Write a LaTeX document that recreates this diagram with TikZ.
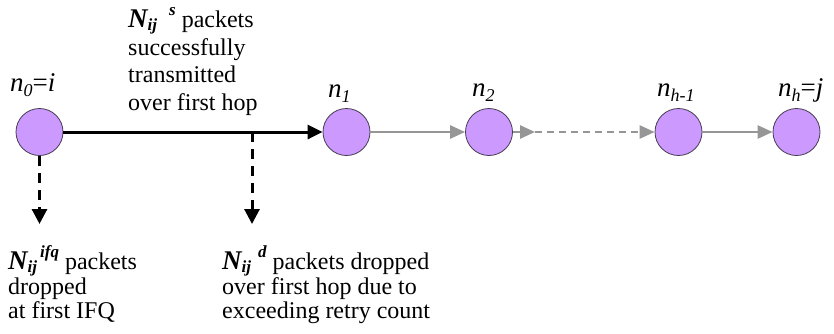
\documentclass[tikz,border=0pt]{standalone}
\usepackage{fontspec}
\setmainfont{Liberation Serif}
\usetikzlibrary{arrows.meta}
\definecolor{nodefill}{RGB}{204,153,255}
\definecolor{nodeedge}{RGB}{70,60,80}
\definecolor{arrgray}{RGB}{150,150,150}
\newcommand{\Nsym}[2]{{\fontsize{27}{27}\selectfont\bfseries\itshape N}\raisebox{-3pt}{\fontsize{17}{17}\selectfont\bfseries\itshape ij}\kern#1\raisebox{12pt}{\fontsize{17}{17}\selectfont\bfseries\itshape #2}}
\newcommand{\nsub}[1]{\raisebox{-5pt}{\fontsize{18}{18}\selectfont\itshape #1}}
\begin{document}
\begin{tikzpicture}[x=1pt,y=-1pt,
  hop/.style={circle,draw=nodeedge,line width=0.8pt,fill=nodefill,minimum size=47pt,inner sep=0pt},
  txt/.style={anchor=base west,inner sep=0pt,font=\fontsize{24}{28}\selectfont},
  nlab/.style={anchor=base west,inner sep=0pt,font=\fontsize{27}{27}\selectfont\itshape},
  mainarr/.style={line width=3pt,-{Triangle[length=15pt,width=14pt]}},
  droparr/.style={line width=3pt,dash pattern=on 10pt off 7pt,-{Triangle[length=15pt,width=15pt]}},
  grayarr/.style={arrgray,line width=2.6pt,-{Triangle[length=15pt,width=13pt]}},
  graydash/.style={arrgray,line width=2.6pt,dash pattern=on 7pt off 5pt,-{Triangle[length=15pt,width=13pt]}}]
\useasboundingbox (0,0) rectangle (834,333);

\node[hop] (n0) at (39.5,132) {};
\node[hop] (n1) at (346.5,132) {};
\node[hop] (n2) at (489,132) {};
\node[hop] (n3) at (678.5,132) {};
\node[hop] (n4) at (796.5,132) {};

\node[nlab] (l0) at (10,91) {n\nsub{0}\upshape=\itshape i};
\node[nlab] (l1) at (328,97) {n\nsub{1}};
\node[nlab] (l2) at (472,96) {n\nsub{2}};
\node[nlab] (l3) at (657,96) {n\nsub{h-1}};
\node[nlab] (l4) at (778,96) {n\nsub{h}\upshape=\itshape j};

\coordinate (m1) at (252,132);
\coordinate (d0) at (39.5,224);
\coordinate (d1) at (252,224);
\coordinate (g1) at (535,132);

\draw[mainarr] (n0.east) -- (n1.west);
\draw[droparr] (n0.south) -- (d0);
\draw[droparr] (m1) -- (d1);
\draw[grayarr] (n1.east) -- (n2.west);
\draw[grayarr] (n2.east) -- (g1);
\draw[graydash] (g1) -- (n3.west);
\draw[grayarr] (n3.east) -- (n4.west);

\node[txt] (t1) at (128,27) {\Nsym{12pt}{s} packets};
\node[txt] (t2) at (128,55) {successfully};
\node[txt] (t3) at (128,82) {transmitted};
\node[txt] (t4) at (128,110) {over first hop};

\node[txt] (b1) at (8,269) {\Nsym{3pt}{ifq} packets};
\node[txt] (b2) at (8,294) {dropped};
\node[txt] (b3) at (8,318) {at first IFQ};

\node[txt] (c1) at (222,269) {\Nsym{7pt}{d} packets dropped};
\node[txt] (c2) at (222,294) {over first hop due to};
\node[txt] (c3) at (222,318) {exceeding retry count};
\end{tikzpicture}
\end{document}
